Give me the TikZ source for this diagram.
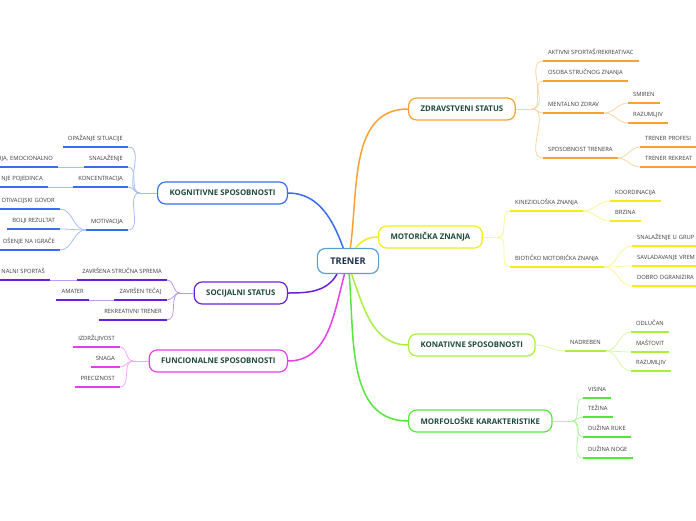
\documentclass[tikz,border=0pt]{standalone}
\usepackage{fontspec}
\setmainfont{Open Sans}
\usetikzlibrary{positioning}

\definecolor{rootc}{HTML}{5A9FD4}
\definecolor{roottext}{HTML}{1F2D4D}
\definecolor{topictext}{HTML}{1D4A3C}
\definecolor{leaftext}{HTML}{3A3A3A}
\definecolor{zdrc}{HTML}{F7A132}
\definecolor{motc}{HTML}{F2EC1A}
\definecolor{konc}{HTML}{A8F03C}
\definecolor{morc}{HTML}{55E63A}
\definecolor{kogc}{HTML}{3A6CF0}
\definecolor{socc}{HTML}{6A1FE0}
\definecolor{func}{HTML}{E43FE8}

\tikzset{
  root/.style={draw=rootc, line width=1.2pt, rounded corners=8pt, fill=white,
    minimum height=25pt, inner xsep=13pt, text=roottext,
    font=\fontsize{9.2}{10}\selectfont\bfseries},
  topic/.style={draw=#1, line width=1.2pt, rounded corners=8pt, fill=white,
    minimum height=22pt, inner xsep=12pt, text=topictext,
    font=\fontsize{7.8}{9}\selectfont\bfseries},
  leaf/.style={inner xsep=5pt, inner ysep=6pt, text height=4.2pt, text depth=0pt,
    text=leaftext, font=\fontsize{5.8}{7}\selectfont,
    append after command={(\tikzlastnode.south west) edge[draw=#1, line width=1.3pt] (\tikzlastnode.south east)}},
  rleaf/.style={leaf=#1, anchor=south west},
  lleaf/.style={leaf=#1, anchor=south east},
  rcut/.style={rleaf=#1, text width=90pt, align=left},
  lcut/.style={lleaf=#1, text width=90pt, align=right},
  branch/.style={draw=#1, line width=1.5pt},
  twig/.style={draw=#1!45, line width=0.8pt},
}

\begin{document}
\begin{tikzpicture}[x=1pt, y=-1pt]
\useasboundingbox (0,0) rectangle (696,520);
\clip (0,0) rectangle (696,520);

% root and main topics
\node[root] (trener) at (348,261) {TRENER};
\node[topic=zdrc, anchor=west] (zdr) at (408,109) {ZDRAVSTVENI STATUS};
\node[topic=motc, anchor=west] (mot) at (378,237) {MOTORIČKA ZNANJA};
\node[topic=konc, anchor=west] (kon) at (408,345) {KONATIVNE SPOSOBNOSTI};
\node[topic=morc, anchor=west] (mor) at (408,421) {MORFOLOŠKE KARAKTERISTIKE};
\node[topic=kogc, anchor=east] (kog) at (288,193) {KOGNITIVNE SPOSOBNOSTI};
\node[topic=socc, anchor=east] (soc) at (288,293) {SOCIJALNI STATUS};
\node[topic=func, anchor=east] (fun) at (288,361) {FUNCIONALNE SPOSOBNOSTI};

\draw[branch=zdrc] (trener.80) to[out=82,in=180] (zdr.west);
\draw[branch=motc] (trener.60) to[out=50,in=180] (mot.west);
\draw[branch=konc] (trener.-75) to[out=-70,in=180] (kon.west);
\draw[branch=morc] (trener.-85) to[out=-85,in=180] (mor.west);
\draw[branch=kogc] (trener.110) to[out=110,in=0] (kog.east);
\draw[branch=socc] (trener.-130) to[out=-120,in=0] (soc.east);
\draw[branch=func] (trener.-105) to[out=-105,in=0] (fun.east);

% zdravstveni status
\node[rleaf=zdrc] (aktiv) at (543,61) {AKTIVNI SPORTAŠ/REKREATIVAC};
\node[rleaf=zdrc] (osoba) at (543,81) {OSOBA STRUČNOG ZNANJA};
\node[rleaf=zdrc] (mental) at (543,113) {MENTALNO ZDRAV};
\node[rleaf=zdrc] (sposob) at (543,158) {SPOSOBNOST TRENERA};
\node[rleaf=zdrc] (smiren) at (628,103) {SMIREN};
\node[rleaf=zdrc] (razum1) at (628,123) {RAZUMLJIV};
\node[rcut=zdrc] (profesi) at (640,147) {TRENER PROFESI};
\node[rcut=zdrc] (rekreat) at (640,167) {TRENER REKREAT};
\coordinate (zdrj) at (532,109);
\draw[twig=zdrc] (zdr.east) -- (zdrj);
\foreach \n in {aktiv,osoba,mental,sposob}
  \draw[twig=zdrc] (zdrj) to[out=0,in=180] (\n.south west);
\foreach \n in {smiren,razum1}
  \draw[twig=zdrc] (mental.south east) to[out=0,in=180] (\n.south west);
\foreach \n in {profesi,rekreat}
  \draw[twig=zdrc] (sposob.south east) to[out=0,in=180] (\n.south west);

% motoricka znanja
\node[rleaf=motc] (kinez) at (510,211) {KINEZIOLOŠKA ZNANJA};
\node[rleaf=motc] (biot) at (510,267) {BIOTIČKO MOTORIČKA ZNANJA};
\node[rleaf=motc] (koord) at (610,201) {KOORDINACIJA};
\node[rleaf=motc] (brzina) at (610,221) {BRZINA};
\node[rcut=motc] (grup) at (632,246) {SNALAŽENJE U GRUP};
\node[rcut=motc] (vrem) at (632,266) {SAVLADAVANJE VREM};
\node[rcut=motc] (organ) at (632,286) {DOBRO OGRANIZIRA};
\coordinate (motj) at (498,237);
\draw[twig=motc] (mot.east) -- (motj);
\foreach \n in {kinez,biot}
  \draw[twig=motc] (motj) to[out=0,in=180] (\n.south west);
\foreach \n in {koord,brzina}
  \draw[twig=motc] (kinez.south east) to[out=0,in=180] (\n.south west);
\foreach \n in {grup,vrem,organ}
  \draw[twig=motc] (biot.south east) to[out=0,in=180] (\n.south west);

% konativne sposobnosti
\node[rleaf=konc] (nadr) at (565,351) {NADREBEN};
\node[rleaf=konc] (odluc) at (631,332) {ODLUČAN};
\node[rleaf=konc] (mastov) at (631,352) {MAŠTOVIT};
\node[rleaf=konc] (razum2) at (631,371) {RAZUMLJIV};
\draw[twig=konc] (kon.east) to[out=0,in=180] (nadr.south west);
\foreach \n in {odluc,mastov,razum2}
  \draw[twig=konc] (nadr.south east) to[out=0,in=180] (\n.south west);

% morfoloske karakteristike
\node[rleaf=morc] (visina) at (583,398) {VISINA};
\node[rleaf=morc] (tezina) at (583,417) {TEŽINA};
\node[rleaf=morc] (ruke) at (583,437) {DUŽINA RUKE};
\node[rleaf=morc] (noge) at (583,458) {DUŽINA NOGE};
\coordinate (morj) at (572,421);
\draw[twig=morc] (mor.east) -- (morj);
\foreach \n in {visina,tezina,ruke,noge}
  \draw[twig=morc] (morj) to[out=0,in=180] (\n.south west);

% kognitivne sposobnosti
\node[lleaf=kogc] (opaz) at (128,147) {OPAŽANJE SITUACIJE};
\node[lleaf=kogc] (snal) at (128,167) {SNALAŽENJE};
\node[lleaf=kogc] (konc) at (128,187) {KONCENTRACIJA};
\node[lleaf=kogc] (motiv) at (128,230) {MOTIVACIJA};
\node[lcut=kogc] (emoc) at (58,167) {IJA, EMOCIONALNO};
\node[lcut=kogc] (pojed) at (48,187) {NJE POJEDINCA};
\node[lcut=kogc] (govor) at (60,209) {OTIVACIJSKI GOVOR};
\node[lleaf=kogc] (bolji) at (60,229) {BOLJI REZULTAT};
\node[lcut=kogc] (igrac) at (60,250) {OŠENJE NA IGRAČE};
\coordinate (kogj) at (140,193);
\draw[twig=kogc] (kog.west) -- (kogj);
\foreach \n in {opaz,snal,konc,motiv}
  \draw[twig=kogc] (kogj) to[out=180,in=0] (\n.south east);
\draw[twig=kogc] (snal.south west) -- (emoc.south east);
\draw[twig=kogc] (konc.south west) -- (pojed.south east);
\foreach \n in {govor,bolji,igrac}
  \draw[twig=kogc] (motiv.south west) to[out=180,in=0] (\n.south east);

% socijalni status
\node[lleaf=socc] (zavrsena) at (167,280) {ZAVRŠENA STRUČNA SPREMA};
\node[lleaf=socc] (tecaj) at (167,300) {ZAVRŠEN TEČAJ};
\node[lleaf=socc] (rekrtr) at (167,320) {REKREATIVNI TRENER};
\node[lcut=socc] (sportas) at (50,280) {NALNI SPORTAŠ};
\node[lleaf=socc] (amater) at (89,300) {AMATER};
\coordinate (socj) at (180,293);
\draw[twig=socc] (soc.west) -- (socj);
\foreach \n in {zavrsena,tecaj,rekrtr}
  \draw[twig=socc] (socj) to[out=180,in=0] (\n.south east);
\draw[twig=socc] (zavrsena.south west) -- (sportas.south east);
\draw[twig=socc] (tecaj.south west) -- (amater.south east);

% funcionalne sposobnosti
\node[lleaf=func] (izdr) at (120,347) {IZDRŽLJIVOST};
\node[lleaf=func] (snaga) at (120,367) {SNAGA};
\node[lleaf=func] (prec) at (120,387) {PRECIZNOST};
\coordinate (funj) at (133,361);
\draw[twig=func] (fun.west) -- (funj);
\foreach \n in {izdr,snaga,prec}
  \draw[twig=func] (funj) to[out=180,in=0] (\n.south east);
\end{tikzpicture}
\end{document}
